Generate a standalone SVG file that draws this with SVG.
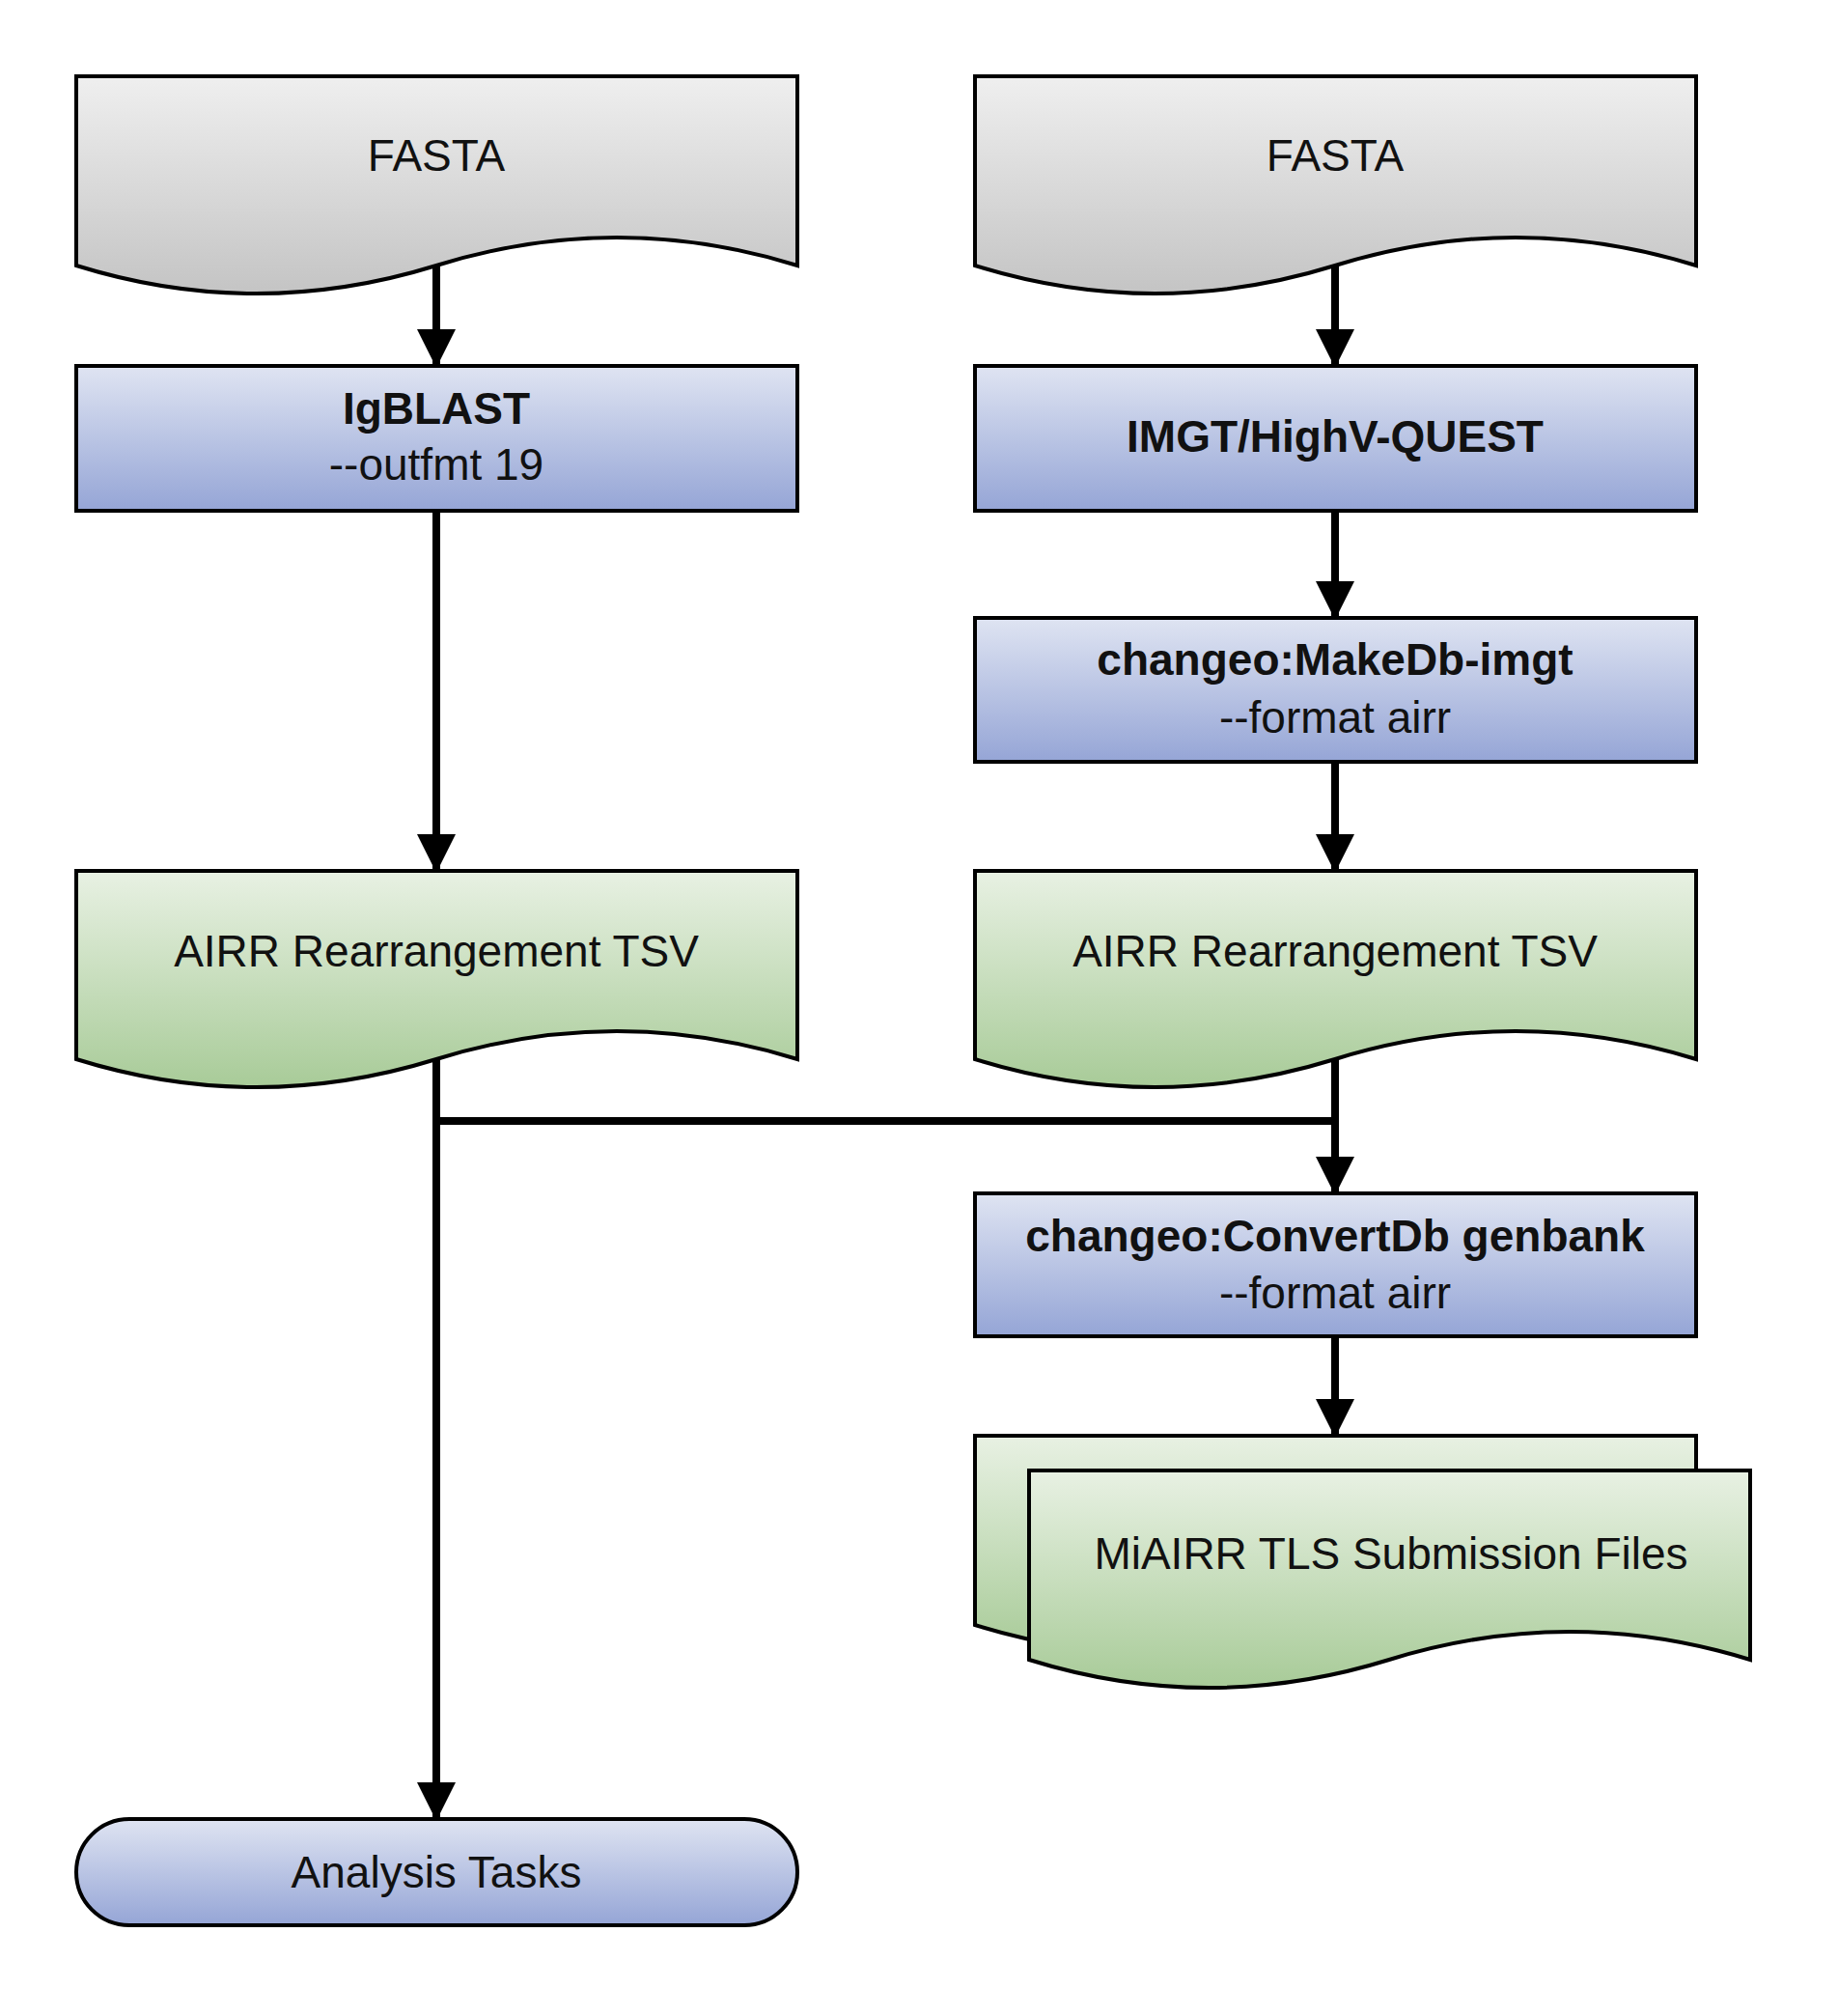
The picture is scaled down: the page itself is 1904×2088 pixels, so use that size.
<svg xmlns="http://www.w3.org/2000/svg" width="1904" height="2088" viewBox="0 0 1904 2088">
<defs>
<linearGradient id="gg" x1="0" y1="0" x2="0" y2="1"><stop offset="0" stop-color="#efefef"/><stop offset="1" stop-color="#c4c4c4"/></linearGradient>
<linearGradient id="gb" x1="0" y1="0" x2="0" y2="1"><stop offset="0" stop-color="#dfe4f2"/><stop offset="1" stop-color="#95a5d6"/></linearGradient>
<linearGradient id="gn" x1="0" y1="0" x2="0" y2="1"><stop offset="0" stop-color="#e8f1e3"/><stop offset="1" stop-color="#a8cb98"/></linearGradient>
<marker id="ah" markerUnits="userSpaceOnUse" markerWidth="40" markerHeight="44" refX="38" refY="20" orient="auto"><path d="M0,0 L40,20 L0,40 Z" fill="#000"/></marker>
<style>
.s{stroke:#000;stroke-width:4}
.t{font-family:"Liberation Sans",Arial,sans-serif;font-size:46px;fill:#111;text-anchor:middle;dominant-baseline:central}
.b{font-weight:bold}
.c{fill:none;stroke:#000;stroke-width:8}
</style>
</defs>
<g id="fasta1"><path class="s" fill="url(#gg)" d="M79,79 H826 V275 Q639,217 452,275 Q265,333 79,275 Z"/><text class="t" x="452" y="161">FASTA</text></g>
<g id="fasta2"><path class="s" fill="url(#gg)" d="M1010,79 H1757 V275 Q1570,217 1383,275 Q1196,333 1010,275 Z"/><text class="t" x="1383" y="161">FASTA</text></g>
<g id="igblast"><rect class="s" fill="url(#gb)" x="79" y="379" width="747" height="150"/><text class="t b" x="452" y="423">IgBLAST</text><text class="t" x="452" y="481">--outfmt 19</text></g>
<g id="imgt"><rect class="s" fill="url(#gb)" x="1010" y="379" width="747" height="150"/><text class="t b" x="1383" y="452">IMGT/HighV-QUEST</text></g>
<g id="makedb"><rect class="s" fill="url(#gb)" x="1010" y="640" width="747" height="149"/><text class="t b" x="1383" y="683">changeo:MakeDb-imgt</text><text class="t" x="1383" y="743">--format airr</text></g>
<g id="airr1"><path class="s" fill="url(#gn)" d="M79,902 H826 V1097 Q639,1039 452,1097 Q265,1155 79,1097 Z"/><text class="t" x="452" y="985">AIRR Rearrangement TSV</text></g>
<g id="airr2"><path class="s" fill="url(#gn)" d="M1010,902 H1757 V1097 Q1570,1039 1383,1097 Q1196,1155 1010,1097 Z"/><text class="t" x="1383" y="985">AIRR Rearrangement TSV</text></g>
<g id="convertdb"><rect class="s" fill="url(#gb)" x="1010" y="1236" width="747" height="148"/><text class="t b" x="1383" y="1280">changeo:ConvertDb genbank</text><text class="t" x="1383" y="1339">--format airr</text></g>
<g id="miairr"><path class="s" fill="url(#gn)" d="M1010,1487 H1757 V1683 Q1570,1625 1383,1683 Q1196,1741 1010,1683 Z"/><path class="s" fill="url(#gn)" d="M1066,1523 H1813 V1719 Q1626,1661 1439,1719 Q1252,1777 1066,1719 Z"/><text class="t" x="1441" y="1609">MiAIRR TLS Submission Files</text></g>
<g id="analysis"><rect class="s" fill="url(#gb)" x="79" y="1884" width="747" height="110" rx="55"/><text class="t" x="452" y="1939">Analysis Tasks</text></g>
<g id="connectors">
<path class="c" marker-end="url(#ah)" d="M452,275 V379"/>
<path class="c" marker-end="url(#ah)" d="M452,529 V902"/>
<path class="c" marker-end="url(#ah)" d="M1383,275 V379"/>
<path class="c" marker-end="url(#ah)" d="M1383,529 V640"/>
<path class="c" marker-end="url(#ah)" d="M1383,789 V902"/>
<path class="c" marker-end="url(#ah)" d="M1383,1097 V1236"/>
<path class="c" marker-end="url(#ah)" d="M452,1097 V1884"/>
<path class="c" d="M452,1161 H1383"/>
<path class="c" marker-end="url(#ah)" d="M1383,1384 V1487"/>
</g>
</svg>
